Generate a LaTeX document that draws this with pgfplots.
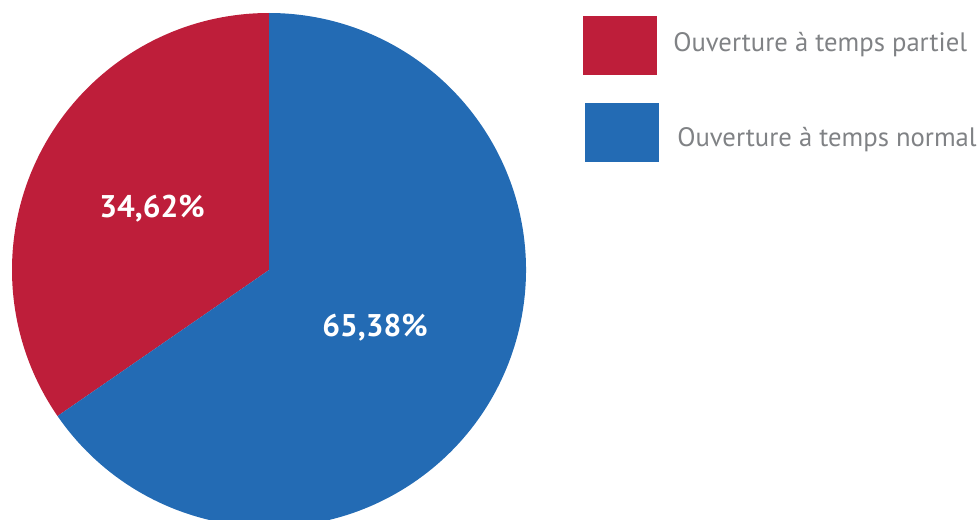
\documentclass[border=0pt]{standalone}
\usepackage{pgfplots}
\pgfplotsset{compat=1.18}
\usepackage{pgfplotstable}
\usepackage{fontspec}
\setmainfont{PT Sans}
\definecolor{pieRed}{HTML}{BE1E3A}
\definecolor{pieBlue}{HTML}{236BB4}
\definecolor{legGray}{HTML}{808285}
\pgfplotstableread{
label value
partiel 34.62
normal 65.38
}\piedata
\begin{document}
\begin{tikzpicture}
\pgfplotstablegetelem{0}{value}\of\piedata
\pgfmathsetmacro{\ea}{90+\pgfplotsretval*3.6}
\begin{axis}[hide axis, x=0.75pt, y=0.75pt, xmin=0, xmax=980, ymin=0, ymax=519, clip=true]
\addplot[draw=none] coordinates {(0,0) (980,519)};
\fill[pieRed] (axis cs:269,249) -- ++(90:192.75pt) arc[start angle=90, end angle=\ea, radius=192.75pt] -- cycle;
\fill[pieBlue] (axis cs:269,249) -- ++(\ea:192.75pt) arc[start angle=\ea, end angle=450, radius=192.75pt] -- cycle;
\node[text=white, font=\fontsize{23.5}{28}\selectfont\bfseries, anchor=center] at (axis cs:152,310) {34,62\%};
\node[text=white, font=\fontsize{23.5}{28}\selectfont\bfseries, anchor=center] at (axis cs:375,191) {65,38\%};
\fill[pieRed] (axis cs:583,444) rectangle (axis cs:657,503);
\fill[pieBlue] (axis cs:585,357) rectangle (axis cs:659,416);
\node[text=legGray, font=\fontsize{20}{24}\selectfont, anchor=base west, inner sep=0pt] at (axis cs:673,467) {Ouverture à temps partiel};
\node[text=legGray, font=\fontsize{20}{24}\selectfont, anchor=base west, inner sep=0pt] at (axis cs:677,373) {Ouverture à temps normal};
\coordinate (sw) at (axis cs:0,0);
\coordinate (ne) at (axis cs:980,519);
\end{axis}
\pgfresetboundingbox
\useasboundingbox (sw) rectangle (ne);
\end{tikzpicture}
\end{document}
